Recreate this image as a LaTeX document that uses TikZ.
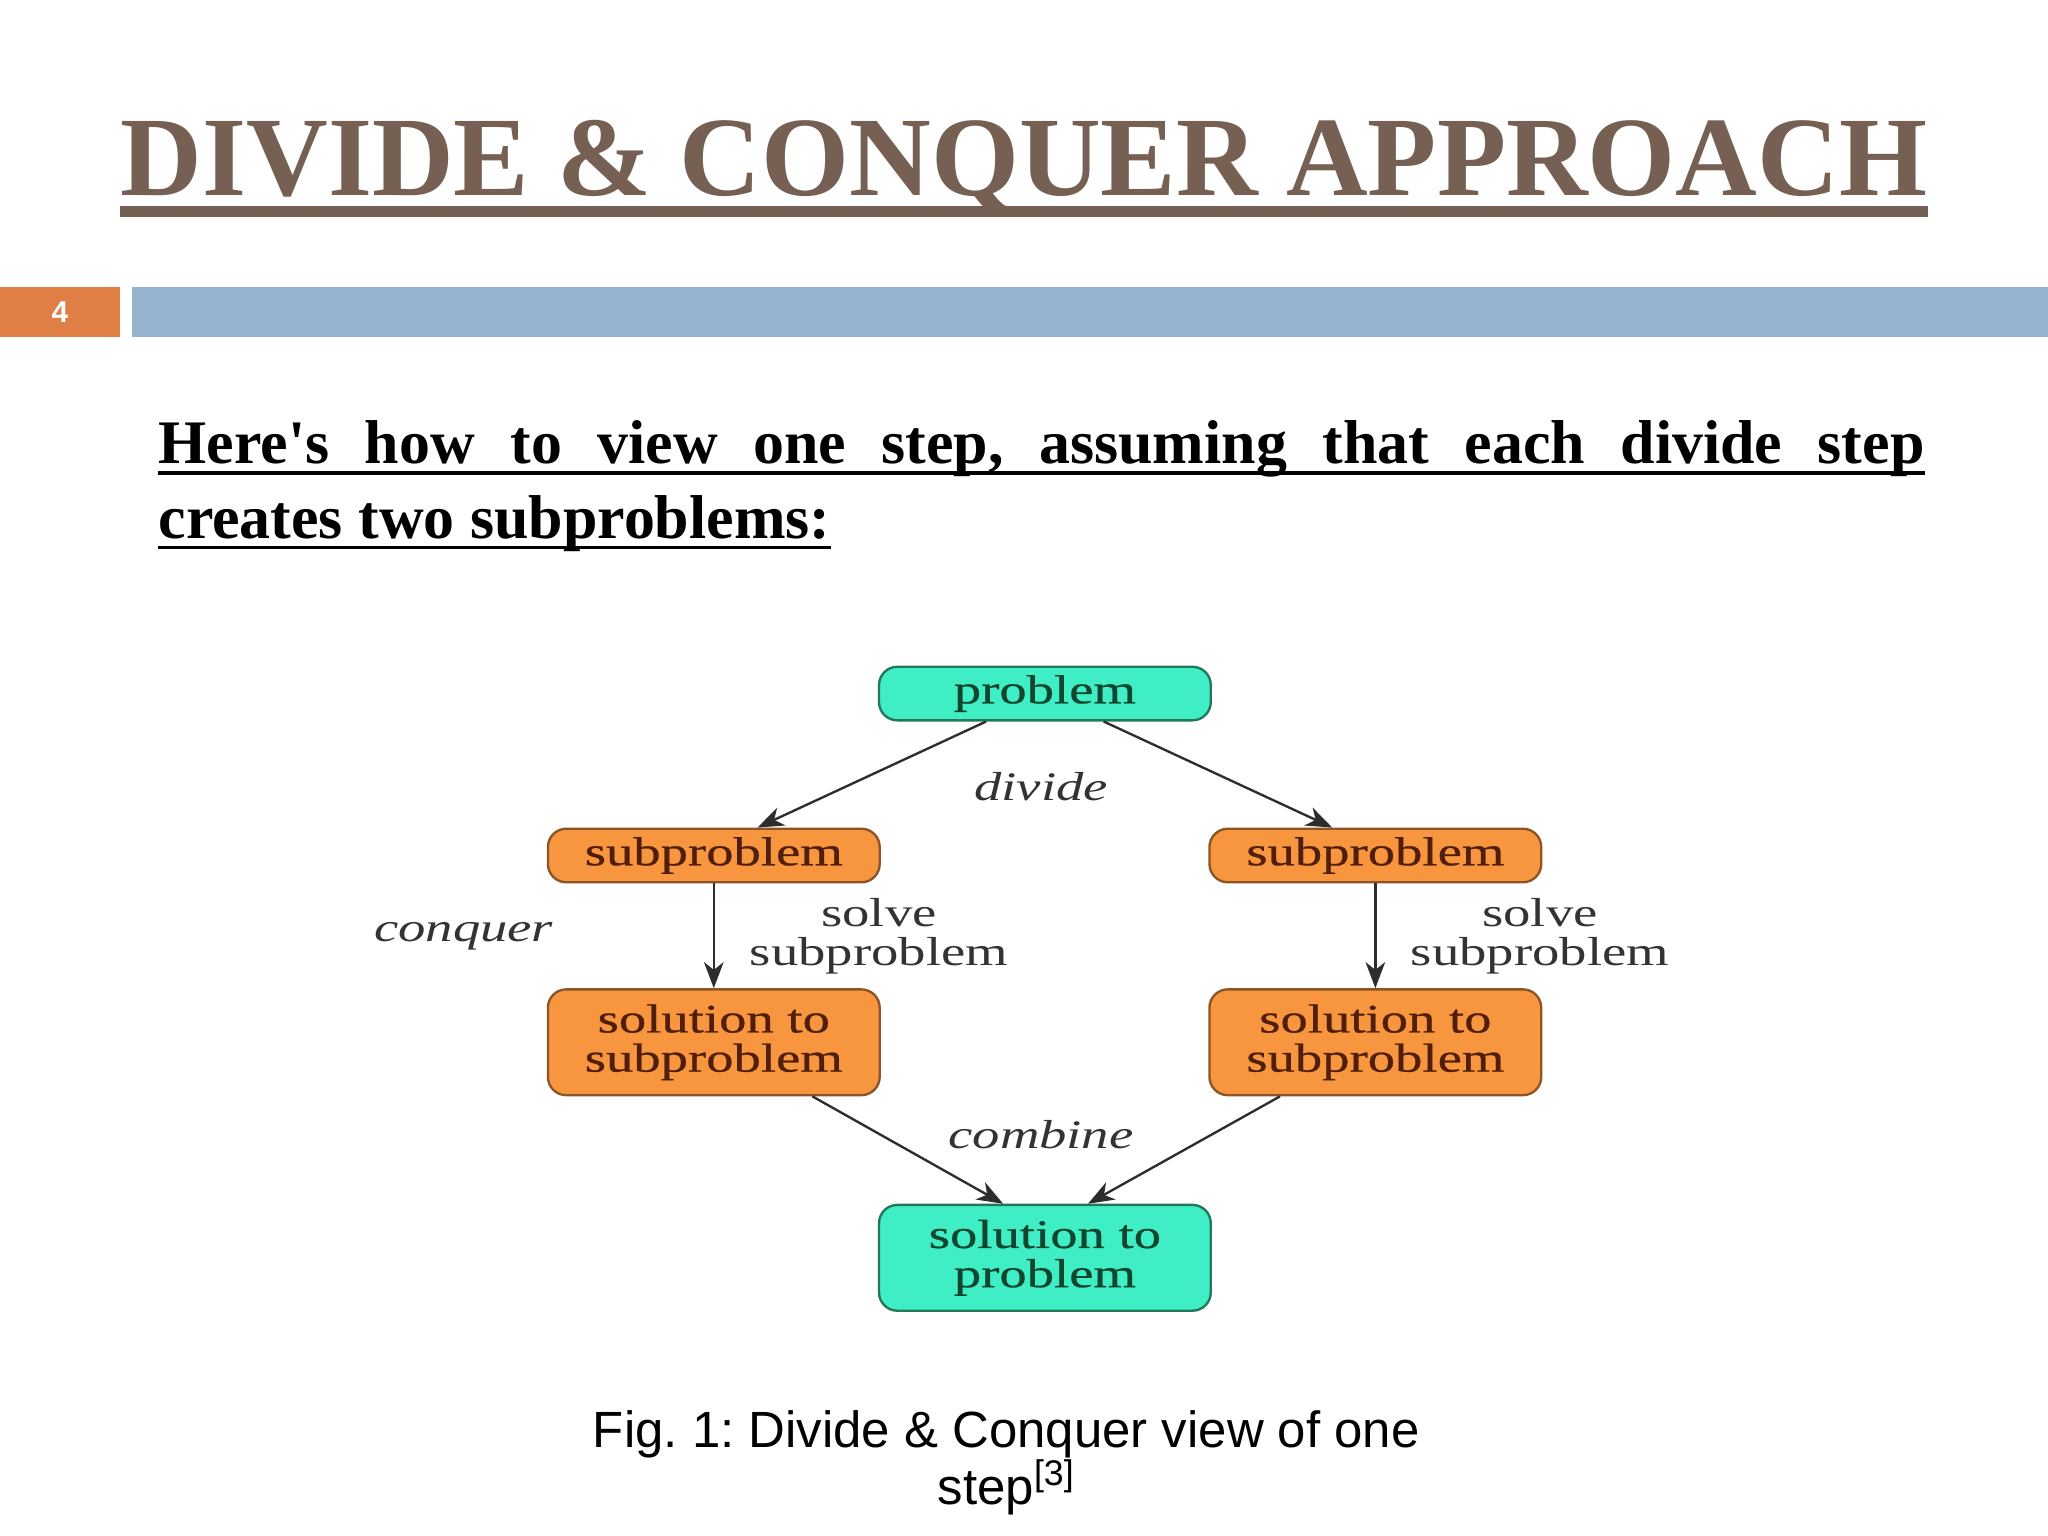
\documentclass[tikz,border=0pt]{standalone}
\usepackage{fontspec}
\setmainfont{Liberation Serif}
\newfontfamily\capfont{Liberation Sans}
\newfontfamily\figfont[FakeStretch=1.35]{Liberation Serif}
\newfontfamily\boxfont[FakeStretch=1.35,FakeBold=0.6]{Liberation Serif}
\usetikzlibrary{arrows.meta}
\frenchspacing
\definecolor{titlebrown}{RGB}{118,96,84}
\definecolor{barorange}{RGB}{224,127,69}
\definecolor{barblue}{RGB}{149,179,207}
\definecolor{boxorange}{RGB}{247,150,62}
\definecolor{boxcyan}{RGB}{64,238,198}
\definecolor{edgeorange}{RGB}{140,85,40}
\definecolor{edgecyan}{RGB}{35,120,90}
\definecolor{textorange}{RGB}{80,30,10}
\definecolor{textcyan}{RGB}{15,70,45}
\definecolor{arrowgray}{RGB}{45,45,45}
\tikzset{
  subbox/.style={draw=edgeorange, fill=boxorange, line width=0.9pt, rounded corners=7pt,
    minimum width=127pt, minimum height=20.5pt, inner sep=0pt, align=center,
    text=textorange, font=\boxfont\fontsize{15.5}{15}\selectfont},
  probbox/.style={subbox, draw=edgecyan, fill=boxcyan, text=textcyan},
  tallbox/.style={minimum height=40.5pt},
  lbl/.style={inner sep=0pt, align=center, text=black!80, font=\figfont\fontsize{15.5}{15}\selectfont},
  arr/.style={-{Stealth[length=10pt,width=7.5pt,inset=3pt]}, draw=arrowgray, line width=0.9pt}
}
\begin{document}
    \begin{tikzpicture}[x=0.5pt,y=-0.5pt]
      \useasboundingbox (0,0) rectangle (1568,1176);
      \fill[white] (0,0) rectangle (1568,1176);
      % heading and slide bar
      \node[anchor=base, inner sep=0pt, text=titlebrown,
        font=\bfseries\fontsize{43.3}{48}\selectfont] (title) at (784,150) {DIVIDE \& CONQUER APPROACH};
      \fill[titlebrown] (92,158) rectangle (1476,166);
      \fill[barorange] (0,220) rectangle (92,258);
      \fill[barblue] (101,220) rectangle (1568,258);
      \node[text=white, font=\capfont\bfseries\fontsize{11.5}{12}\selectfont] (num) at (46,239) {4};
      % intro text
      \node[anchor=base west, inner sep=0pt, font=\bfseries\fontsize{23.7}{28}\selectfont] (line1) at (121,355)
        {\makebox[676pt][s]{Here\textquotesingle s how to view one step, assuming that each divide step}};
      \node[anchor=base west, inner sep=0pt, font=\bfseries\fontsize{23.7}{28}\selectfont] (line2) at (121,412)
        {creates two subproblems:};
      \draw[line width=1.3pt] ([yshift=-3.5pt]line1.base west) -- ([yshift=-3.5pt]line1.base east);
      \draw[line width=1.3pt] ([yshift=-3.5pt]line2.base west) -- ([yshift=-3.5pt]line2.base east);
      % diagram
      \draw
        (800,531) node[probbox] (prob){problem}
        (546.5,655) node[subbox] (subl){subproblem}
        (1053,655) node[subbox] (subr){subproblem}
        (546.5,798) node[subbox, tallbox] (soll){solution to\\subproblem}
        (1053,798) node[subbox, tallbox] (solr){solution to\\subproblem}
        (800,963) node[probbox, tallbox] (solp){solution to\\problem};
      \draw
        (797,602) node[lbl] (divide){\itshape divide}
        (355,717) node[lbl] (conquer){\itshape conquer}
        (673,717) node[lbl] (solvel){solve\\subproblem}
        (1179,717) node[lbl] (solver){solve\\subproblem}
        (797,869) node[lbl] (combine){\itshape combine};
      \begin{scope}[arr]
        \draw ([xshift=-22.5pt]prob.south) to ([xshift=16.75pt]subl.north);
        \draw ([xshift=22.5pt]prob.south) to ([xshift=-16.5pt]subr.north);
        \draw (subl) to (soll);
        \draw (subr) to (solr);
        \draw ([xshift=37.75pt]soll.south) to ([xshift=-16pt]solp.north);
        \draw ([xshift=-36.5pt]solr.south) to ([xshift=16.5pt]solp.north);
      \end{scope}
      % caption
      \node[anchor=base, inner sep=0pt, font=\capfont\fontsize{19.5}{22}\selectfont] (cap1) at (770.5,1108)
        {Fig. 1: Divide \& Conquer view of one};
      \node[anchor=base, inner sep=0pt, font=\capfont\fontsize{19.5}{22}\selectfont] (cap2) at (770.5,1152)
        {step\textsuperscript{[3]}};
    \end{tikzpicture}
\end{document}
